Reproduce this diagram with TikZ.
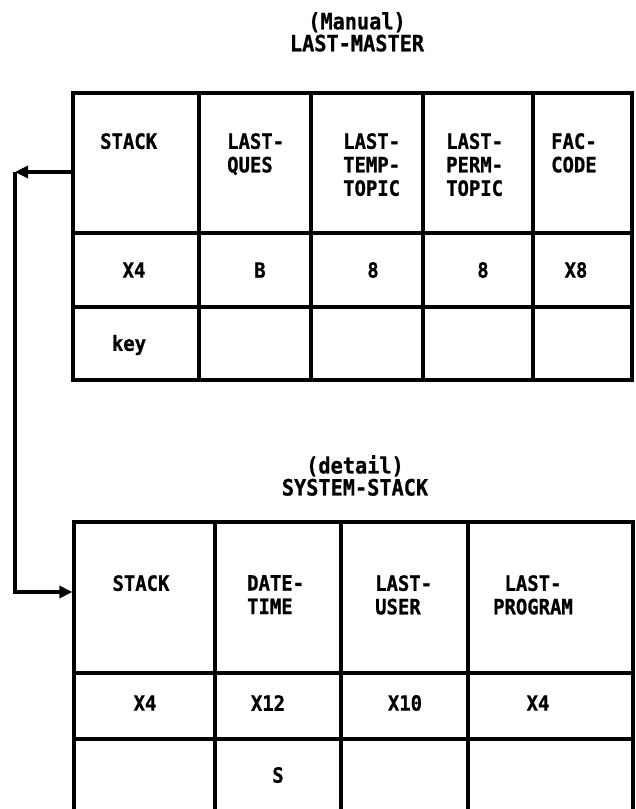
\documentclass[tikz,border=0pt]{standalone}
\usepackage{fontspec}
\newfontfamily\printfont[FakeStretch=0.9,FakeBold=0.8]{DejaVu Sans Mono}
\usetikzlibrary{arrows.meta}
\newcommand\mycell[6]{\node[#6, minimum width={#4-#2}, minimum height={#5-#3}] (#1) at ({(#2+#4)/2},{(#3+#5)/2}) {};}
\begin{document}
\begin{tikzpicture}[x=1pt,y=-1pt,
  cell/.style={draw, line width=3.2pt, inner sep=0pt},
  opencell/.style={inner sep=0pt, outer sep=0pt},
  hd/.style={inner sep=0pt, font=\printfont\bfseries\fontsize{21}{23.5}\selectfont, align=left},
  ttl/.style={inner sep=0pt, font=\printfont\bfseries\fontsize{22.5}{22}\selectfont, align=center},
  conn/.style={line width=3.2pt},
  tip/.style={-{Triangle[length=13pt,width=12pt]}}]
\useasboundingbox (0,0) rectangle (636,809);

% titles
\node[ttl, anchor=north] (title1) at (357,12) {(Manual)\\LAST-MASTER};
\node[ttl, anchor=north] (title2) at (355,455) {(detail)\\SYSTEM-STACK};

% top table cells
\mycell{tS}{73}{93}{199}{233}{cell}
\mycell{tQ}{199}{93}{311}{233}{cell}
\mycell{tT}{311}{93}{423}{233}{cell}
\mycell{tP}{423}{93}{533}{233}{cell}
\mycell{tF}{533}{93}{632}{233}{cell}
\mycell{tS2}{73}{233}{199}{307}{cell}
\mycell{tQ2}{199}{233}{311}{307}{cell}
\mycell{tT2}{311}{233}{423}{307}{cell}
\mycell{tP2}{423}{233}{533}{307}{cell}
\mycell{tF2}{533}{233}{632}{307}{cell}
\mycell{tS3}{73}{307}{199}{380}{cell}
\mycell{tQ3}{199}{307}{311}{380}{cell}
\mycell{tT3}{311}{307}{423}{380}{cell}
\mycell{tP3}{423}{307}{533}{380}{cell}
\mycell{tF3}{533}{307}{632}{380}{cell}

% top table texts
\node[hd, anchor=north west] (hS) at (100,133) {STACK};
\node[hd, anchor=north west] (hQ) at (227,133) {LAST-\\QUES};
\node[hd, anchor=north west] (hT) at (343,133) {LAST-\\TEMP-\\TOPIC};
\node[hd, anchor=north west] (hP) at (446,133) {LAST-\\PERM-\\TOPIC};
\node[hd, anchor=north west] (hF) at (551,133) {FAC-\\CODE};
\node[hd] (vS) at (134,270) {X4};
\node[hd] (vQ) at (260,270) {B};
\node[hd] (vT) at (373,270) {8};
\node[hd] (vP) at (483,270) {8};
\node[hd] (vF) at (576,270) {X8};
\node[hd] (kS) at (129,345) {key};

% bottom table cells
\mycell{bS}{74}{522}{215}{673}{cell}
\mycell{bD}{215}{522}{341}{673}{cell}
\mycell{bU}{341}{522}{468}{673}{cell}
\mycell{bP}{468}{522}{633}{673}{cell}
\mycell{bS2}{74}{673}{215}{739}{cell}
\mycell{bD2}{215}{673}{341}{739}{cell}
\mycell{bU2}{341}{673}{468}{739}{cell}
\mycell{bP2}{468}{673}{633}{739}{cell}
\mycell{bS3}{74}{739}{215}{809}{opencell}
\mycell{bD3}{215}{739}{341}{809}{opencell}
\mycell{bU3}{341}{739}{468}{809}{opencell}
\mycell{bP3}{468}{739}{633}{809}{opencell}
\draw[conn] (bS3.north west) -- (bS3.south west);
\draw[conn] (bD3.north west) -- (bD3.south west);
\draw[conn] (bU3.north west) -- (bU3.south west);
\draw[conn] (bP3.north west) -- (bP3.south west);
\draw[conn] (bP3.north east) -- (bP3.south east);

% bottom table texts
\node[hd, anchor=north] (gS) at (141,575) {STACK};
\node[hd, anchor=north west] (gD) at (247,575) {DATE-\\TIME};
\node[hd, anchor=north west] (gU) at (375,575) {LAST-\\USER};
\node[hd, anchor=north, align=center] (gP) at (533,575) {LAST-\\PROGRAM};
\node[hd] (wS) at (145,703) {X4};
\node[hd] (wD) at (268,703) {X12};
\node[hd] (wU) at (405,703) {X10};
\node[hd] (wP) at (538,703) {X4};
\node[hd] (sD) at (278,775) {S};

% connector
\coordinate (c1) at (15,172);
\coordinate (c2) at (15,592);
\draw[conn, tip] (tS.west |- c1) -- (c1);
\draw[conn, tip] (c1) -- (c2) -- (bS.west |- c2);
\end{tikzpicture}
\end{document}
